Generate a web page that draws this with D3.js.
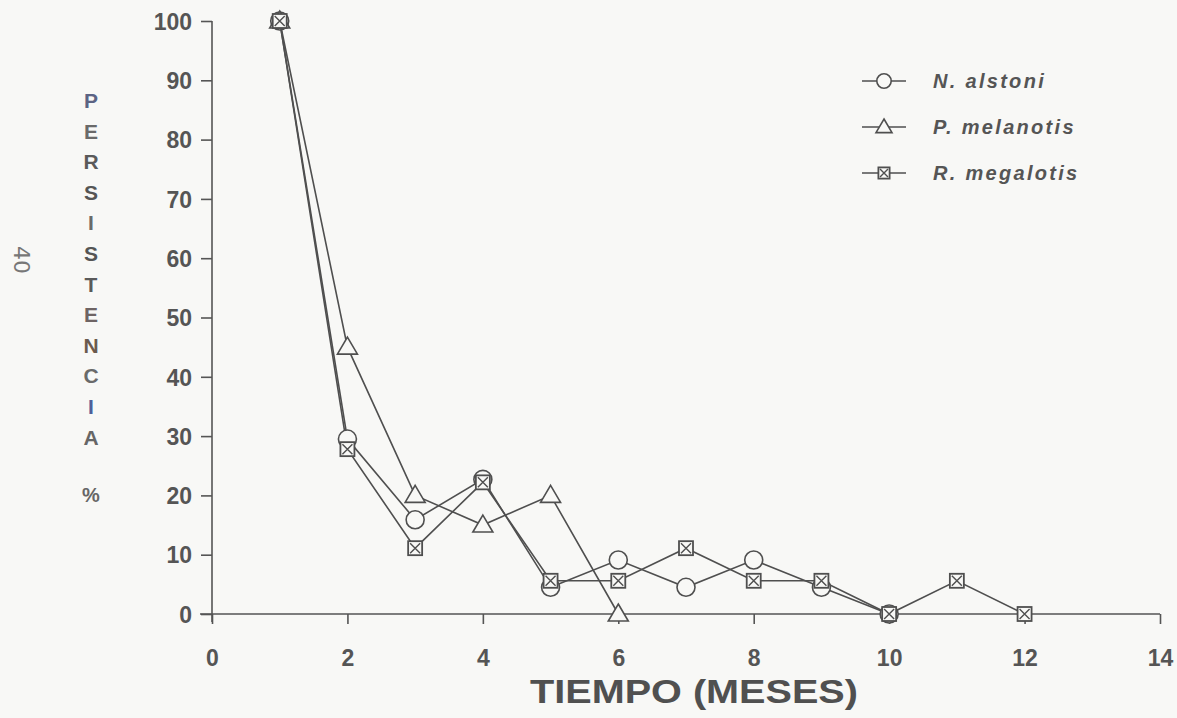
<!DOCTYPE html>
<html>
<head>
<meta charset="utf-8">
<script src="https://cdn.jsdelivr.net/npm/d3@7"></script>
<style>
  body { margin: 0; background: #f8f8f6; }
  svg { display: block; }
  .axis path, .axis line { stroke: #555; stroke-width: 1.6; }
  .axis text { font-family: "Liberation Sans", Arial, sans-serif; font-weight: bold; fill: #555; font-size: 23px; }
</style>
</head>
<body>
<svg class="chart"></svg>
<script>
// Data
var months = [1, 2, 3, 4, 5, 6, 7, 8, 9, 10, 11, 12];
var alstoni = [100, 29.5, 15.9, 22.7, 4.5, 9.1, 4.5, 9.1, 4.5, 0];
var melanotis = [100, 45, 20, 15, 20, 0];
var megalotis = [100, 27.8, 11.1, 22.2, 5.6, 5.6, 11.1, 5.6, 5.6, 0, 5.6, 0];
var seriesNames = ["N. alstoni", "P. melanotis", "R. megalotis"];
var xTicks = [0, 2, 4, 6, 8, 10, 12, 14];
var yTicks = [0, 10, 20, 30, 40, 50, 60, 70, 80, 90, 100];
var yLetters = ["P", "E", "R", "S", "I", "S", "T", "E", "N", "C", "I", "A"];

// Margins
var margin = { top: 21, right: 17, bottom: 104, left: 212 },
    width = 1177 - margin.left - margin.right,
    height = 718 - margin.top - margin.bottom;

var svg = d3.select(".chart")
    .attr("width", 1177)
    .attr("height", 718);

var chart = svg.append("g")
    .attr("transform", "translate(" + margin.left + "," + margin.top + ")");

var x = d3.scaleLinear().domain([0, 14]).range([0, width]);
var y = d3.scaleLinear().domain([0, 100]).range([height, 0]);

var ink = "#4f4f4f";
var paper = "#f8f8f6";

// x axis
var xAxis = d3.axisBottom(x).tickValues(xTicks).tickSizeOuter(0).tickSize(10).tickPadding(26);
var gx = chart.append("g")
    .attr("class", "x axis")
    .attr("transform", "translate(0," + height + ")")
    .call(xAxis);
gx.select(".domain").attr("d", "M-12,0H" + width);

// y axis
var yAxis = d3.axisLeft(y).tickValues(yTicks).tickSizeOuter(0).tickSize(11).tickPadding(9);
var gy = chart.append("g")
    .attr("class", "y axis")
    .call(yAxis);
gy.select(".domain").attr("d", "M0,0V" + (height + 8));
gy.selectAll("text").attr("dy", "0.36em");

// axis titles
chart.append("text")
    .attr("x", x(7) + 8)
    .attr("y", height + 89)
    .attr("text-anchor", "middle")
    .attr("font-family", "Liberation Sans, Arial, sans-serif")
    .attr("font-weight", "bold")
    .attr("font-size", 34)
    .attr("fill", "#505050")
    .attr("textLength", 328)
    .attr("lengthAdjust", "spacingAndGlyphs")
    .text("TIEMPO (MESES)");

var letterColors = ["#5c6484", "#6a6a6a", "#5a5a5a", "#555", "#6a6a6a", "#555", "#5a5a5a", "#6e6464", "#6b5a4e", "#6a6a6a", "#4f5f9a", "#666"];
svg.append("g").selectAll("text")
    .data(yLetters)
    .enter().append("text")
    .attr("x", 91)
    .attr("y", function (d, i) { return 108 + i * 30.6; })
    .attr("text-anchor", "middle")
    .attr("font-family", "Liberation Sans, Arial, sans-serif")
    .attr("font-weight", "bold")
    .attr("font-size", 21)
    .attr("fill", function (d, i) { return letterColors[i]; })
    .text(function (d) { return d; });

svg.append("text")
    .attr("x", 91)
    .attr("y", 502)
    .attr("text-anchor", "middle")
    .attr("font-family", "Liberation Sans, Arial, sans-serif")
    .attr("font-weight", "bold")
    .attr("font-size", 20)
    .attr("fill", "#666")
    .text("%");

// page number
svg.append("text")
    .attr("transform", "translate(14,260) rotate(90)")
    .attr("text-anchor", "middle")
    .attr("font-family", "DejaVu Sans, sans-serif")
    .attr("font-size", 22)
    .attr("fill", "#777")
    .text("40");

// Markers
function drawMarker(g, kind, s) {
    s = s || 1;
    if (kind === 0) {
        g.append("circle").attr("r", 9 * s).attr("fill", paper).attr("stroke", ink).attr("stroke-width", 1.6);
    } else if (kind === 1) {
        g.append("path").attr("d", "M0," + (-10 * s) + "L" + (10 * s) + "," + (7 * s) + "H" + (-10 * s) + "Z")
            .attr("fill", paper).attr("stroke", ink).attr("stroke-width", 1.6);
    } else {
        g.append("rect").attr("x", -7 * s).attr("y", -7 * s).attr("width", 14 * s).attr("height", 14 * s)
            .attr("fill", paper).attr("stroke", ink).attr("stroke-width", 1.8);
        g.append("path").attr("d", "M" + (-5 * s) + "," + (-5 * s) + "L" + (5 * s) + "," + (5 * s) + "M" + (5 * s) + "," + (-5 * s) + "L" + (-5 * s) + "," + (5 * s))
            .attr("stroke", ink).attr("stroke-width", 1.4);
    }
}

var line = d3.line()
    .x(function (d, i) { return x(months[i]); })
    .y(function (d) { return y(d); });

var allSeries = [alstoni, melanotis, megalotis];

allSeries.forEach(function (values) {
    chart.append("path")
        .datum(values)
        .attr("fill", "none")
        .attr("stroke", ink)
        .attr("stroke-width", 1.6)
        .attr("d", line);
});

allSeries.forEach(function (values, k) {
    chart.selectAll(".m" + k)
        .data(values)
        .enter().append("g")
        .attr("class", "m" + k)
        .attr("transform", function (d, i) { return "translate(" + x(months[i]) + "," + y(d) + ")"; })
        .each(function () { drawMarker(d3.select(this), k); });
});

// Legend
var legend = svg.append("g").attr("transform", "translate(862,81)");
seriesNames.forEach(function (name, k) {
    var row = legend.append("g").attr("transform", "translate(0," + (k * 46) + ")");
    row.append("line").attr("x1", 0).attr("x2", 44).attr("stroke", ink).attr("stroke-width", 1.6);
    drawMarker(row.append("g").attr("transform", "translate(22,0)"), k, 0.8);
    row.append("text")
        .attr("x", 71)
        .attr("dy", "0.36em")
        .attr("font-family", "Liberation Sans, Arial, sans-serif")
        .attr("font-weight", "bold")
        .attr("font-style", "italic")
        .attr("font-size", 20)
        .attr("letter-spacing", 2.3)
        .attr("fill", "#555")
        .text(name);
});
</script>
</body>
</html>
